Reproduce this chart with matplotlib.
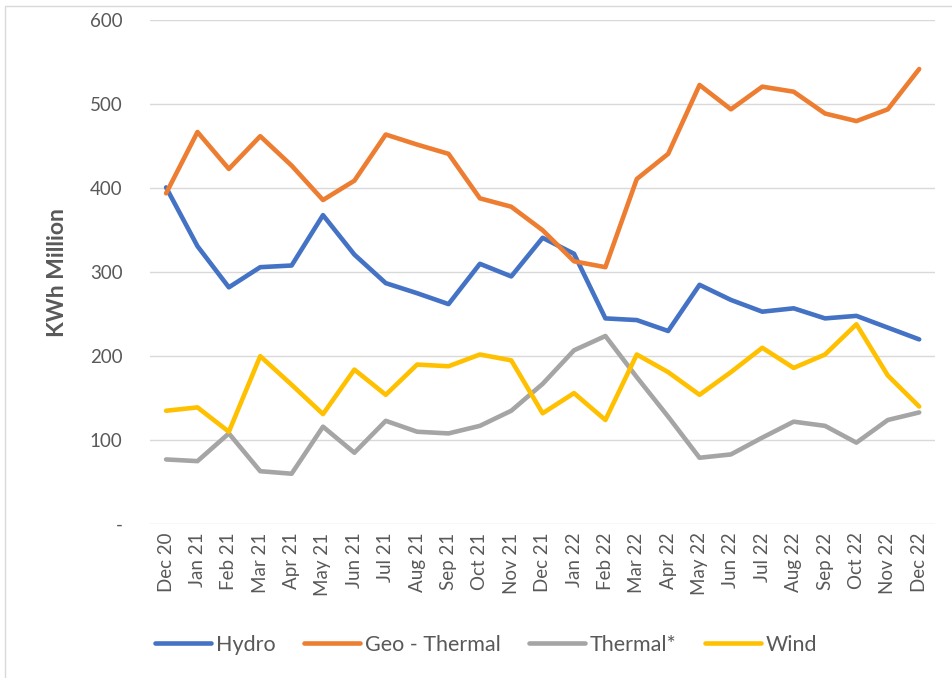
import matplotlib
matplotlib.use('Agg')
import matplotlib.pyplot as plt
from matplotlib.patches import Rectangle

# Monthly generation, KWh Million
months = ['Dec 20', 'Jan 21', 'Feb 21', 'Mar 21', 'Apr 21', 'May 21', 'Jun 21',
          'Jul 21', 'Aug 21', 'Sep 21', 'Oct 21', 'Nov 21', 'Dec 21', 'Jan 22',
          'Feb 22', 'Mar 22', 'Apr 22', 'May 22', 'Jun 22', 'Jul 22', 'Aug 22',
          'Sep 22', 'Oct 22', 'Nov 22', 'Dec 22']
hydro = [401, 331, 282, 306, 308, 368, 321, 287, 275, 262, 310, 295, 341,
         322, 245, 243, 230, 285, 267, 253, 257, 245, 248, 234, 220]
geo_thermal = [394, 467, 423, 462, 427, 386, 409, 464, 452, 441, 388, 378, 350,
               313, 306, 411, 441, 523, 494, 521, 515, 489, 480, 494, 542]
thermal = [77, 75, 108, 63, 60, 116, 85, 123, 110, 108, 117, 135, 167,
           207, 224, 175, 128, 79, 83, 103, 122, 117, 97, 124, 133]
wind = [135, 139, 110, 200, 166, 131, 184, 154, 190, 188, 202, 195, 132,
        156, 124, 202, 181, 154, 181, 210, 186, 202, 238, 177, 140]

series = [('Hydro', hydro, '#4472C4'),
          ('Geo - Thermal', geo_thermal, '#ED7D31'),
          ('Thermal*', thermal, '#A5A5A5'),
          ('Wind', wind, '#FFC000')]

plt.rcParams['font.family'] = ['Lato', 'DejaVu Sans']
text_color = '#595959'

fig = plt.figure(figsize=(9.52, 6.78), dpi=100)
ax = fig.add_axes([0.158, 0.227, 0.824, 0.743])

x = list(range(len(months)))
for name, values, color in series:
    ax.plot(x, values, color=color, linewidth=3.3, label=name,
            solid_joinstyle='round', solid_capstyle='round', zorder=3)

ax.set_xlim(-0.5, len(months) - 0.5)
ax.set_ylim(0, 600)
ax.set_yticks(range(0, 601, 100))
ax.set_yticklabels(['-'] + [str(v) for v in range(100, 601, 100)])
ax.set_xticks(x)
ax.set_xticklabels(months, rotation=90)
ax.tick_params(axis='both', length=0, labelsize=13.5, labelcolor=text_color)
ax.tick_params(axis='y', pad=20)
ax.tick_params(axis='x', pad=6)

ax.grid(axis='y', color='#D9D9D9', linewidth=1.0, zorder=0)
for side in ax.spines.values():
    side.set_visible(False)

ax.set_ylabel('KWh Million', fontsize=16.5, fontweight='bold', color=text_color)
ax.yaxis.set_label_coords(-0.105, 0.5)

ax.legend(loc='center', bbox_to_anchor=(0.428, -0.24), ncol=4, frameon=False,
          fontsize=15.5, handlelength=2.6, columnspacing=1.3, handletextpad=0.25,
          labelcolor=text_color)

# outer chart border
fig.patches.append(Rectangle((0.005, -0.01), 1.0, 1.001, transform=fig.transFigure,
                             fill=False, edgecolor='#D9D9D9', linewidth=1.0))

fig.savefig('out.png', dpi=100)
